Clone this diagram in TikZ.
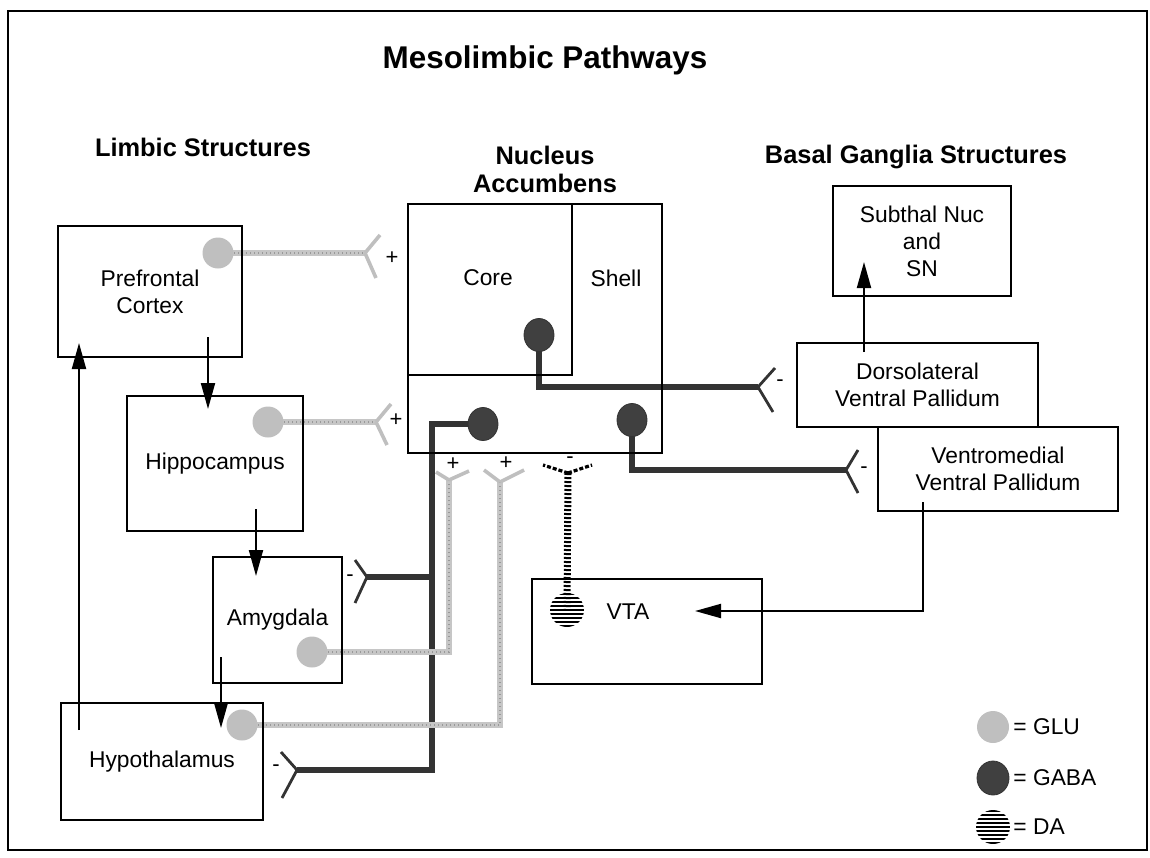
\documentclass[tikz,border=0pt]{standalone}
\usepackage{fontspec}
\setmainfont{Liberation Sans}
\usetikzlibrary{arrows.meta,shapes.geometric,backgrounds}

\tikzset{
	region/.style={draw, line width=1.3pt, inner sep=0pt, align=center, font=\fontsize{11.4}{13.5}\selectfont},
	caption/.style={align=center, inner sep=0pt, font=\fontsize{11.4}{13.5}\selectfont},
	heading/.style={align=center, inner sep=0pt, font=\bfseries\fontsize{12.7}{14}\selectfont},
	sign/.style={inner sep=0pt, font=\fontsize{11}{11}\selectfont},
	flow/.style={line width=1pt, -{Triangle[length=13pt,width=7pt]}},
	gaba/.style={ellipse, fill=black!75, draw=black!80, minimum width=15pt, minimum height=16.5pt, inner sep=0pt},
	glu/.style={circle, fill=gray!50, minimum size=15.5pt, inner sep=0pt},
	da/.style={circle, minimum size=17pt, inner sep=0pt,
		path picture={\foreach \k in {-8,-6,...,8}
			\draw[line width=1.1pt] ([yshift=\k pt]path picture bounding box.west) -- ([yshift=\k pt]path picture bounding box.east);}},
	gabalink/.style={line width=2.7pt, black!80},
	glulink/.style={line width=3pt, draw=gray!45, postaction={draw=gray!80, line width=0.7pt, dash pattern=on 0.7pt off 1.3pt}},
	dalink/.style={line width=3.5pt, dash pattern=on 1pt off 1pt},
	gabaarm/.style={line width=1.4pt, black!80},
	gluarm/.style={line width=1.8pt, gray!50},
	daarm/.style={line width=1.6pt, dash pattern=on 2pt off 1pt}
}

\begin{document}
\begin{tikzpicture}[x=0.5pt, y=-0.5pt]
	\useasboundingbox (0,0) rectangle (1150,857);
	\draw[line width=1.2pt] (8,11) rectangle (1147,850);

	% titles
	\node[heading, font=\bfseries\fontsize{15.7}{18}\selectfont] (title) at (545,60) {Mesolimbic Pathways};
	\node[heading] (limbichead) at (203,147) {Limbic Structures};
	\node[heading] (nachead) at (545,169) {Nucleus\\Accumbens};
	\node[heading] (bghead) at (916,157) {Basal Ganglia Structures};

	% limbic boxes
	\node[region, minimum width=92pt, minimum height=65.5pt] (pfc) at (150,291.5) {Prefrontal\\Cortex};
	\node[region, minimum width=88pt, minimum height=67.5pt] (hip) at (215,463.5) {Hippocampus};
	\node[region, minimum width=64.5pt, minimum height=63pt] (amy) at (277.5,620) {Amygdala};
	\node[region, minimum width=101pt, minimum height=58.5pt] (hyp) at (162,761.5) {Hypothalamus};

	% accumbens
	\node[region, minimum width=127pt, minimum height=124.5pt] (nac) at (535,328.5) {};
	\node[region, minimum width=82pt, minimum height=85.5pt] (core) at (490,289.5) {};
	\node[caption] (coretext) at (488,278) {Core};
	\node[caption] (shelltext) at (616,278) {Shell};

	% basal ganglia boxes
	\node[region, minimum width=89pt, minimum height=55pt] (stn) at (922,241) {Subthal Nuc\\and\\SN};
	\node[region, minimum width=120.5pt, minimum height=42pt] (dvp) at (917.5,385) {Dorsolateral\\Ventral Pallidum};
	\node[region, minimum width=120pt, minimum height=42pt] (vvp) at (998,469) {Ventromedial\\Ventral Pallidum};
	\node[region, minimum width=115pt, minimum height=52.5pt] (vta) at (647,631.5) {};
	\node[caption] (vtatext) at (628,612) {VTA};

	% cell bodies
	\node[glu] (pfcglu) at (218,253) {};
	\node[glu] (hipglu) at (268,422) {};
	\node[glu] (amyglu) at (312,652) {};
	\node[glu] (hypglu) at (242,725) {};
	\node[gaba] (coregaba) at (539,335) {};
	\node[gaba] (nacgaba) at (483,424) {};
	\node[gaba] (shellgaba) at (632,420) {};
	\node[da] (vtada) at (567,610) {};

	% synapse points
	\coordinate (pfcsyn) at (365,253);
	\coordinate (hipsyn) at (376,422);
	\coordinate (amysyn) at (449,480);
	\coordinate (hypsyn) at (500,482);
	\coordinate (dasyn) at (568,473);
	\coordinate (dvpsyn) at (758,387);
	\coordinate (vvpsyn) at (846,470);
	\coordinate (amygsyn) at (367,577);
	\coordinate (hypgsyn) at (297,770);
	\coordinate (gabatrunk) at (432,424);

	% flow arrows
	\coordinate (pfcout) at (208,337);
	\coordinate (hipin) at (208,409);
	\coordinate (hipout) at (256,509);
	\coordinate (amyin) at (256,576);
	\coordinate (amyout) at (221,657);
	\coordinate (hypin) at (221,728);
	\coordinate (hypout) at (79,730);
	\coordinate (pfcin) at (79,343);
	\coordinate (dvpout) at (864,352);
	\coordinate (stnin) at (864,262);
	\coordinate (vvpout) at (923,502);
	\coordinate (vtain) at (695,611);
	\draw[flow] (pfcout) -- (hipin);
	\draw[flow] (hipout) -- (amyin);
	\draw[flow] (amyout) -- (hypin);
	\draw[flow] (hypout) -- (pfcin);
	\draw[flow] (dvpout) -- (stnin);
	\draw[flow] (vvpout) |- (vtain);

	\begin{scope}[on background layer]
		\draw[gabalink] (coregaba.center) |- (dvpsyn);
		\draw[gabalink] (nacgaba.center) -- (gabatrunk) |- (hypgsyn);
		\draw[gabalink] (amygsyn) -- (amygsyn -| gabatrunk);
		\draw[gabalink] (shellgaba.center) |- (vvpsyn);
		\draw[glulink] (pfcglu.center) -- (pfcsyn);
		\draw[glulink] (hipglu.center) -- (hipsyn);
		\draw[glulink] (amyglu.center) -| (amysyn);
		\draw[glulink] (hypglu.center) -| (hypsyn);
		\draw[dalink] (dasyn) -- (vtada.center);
	\end{scope}

	% terminals
	\draw[gluarm] (pfcsyn) -- ++(15,-18) (pfcsyn) -- ++(11,25);
	\draw[gluarm] (hipsyn) -- ++(15,-18) (hipsyn) -- ++(11,23);
	\draw[gluarm] (amysyn) -- ++(-13,-8) (amysyn) -- ++(20,-9);
	\draw[gluarm] (hypsyn) -- ++(-16,-12) (hypsyn) -- ++(24,-12);
	\draw[daarm] (dasyn) -- ++(-25,-8) (dasyn) -- ++(24,-8);
	\draw[gabaarm] (dvpsyn) -- ++(17,-19) (dvpsyn) -- ++(15,25);
	\draw[gabaarm] (vvpsyn) -- ++(12,-20) (vvpsyn) -- ++(12,23);
	\draw[gabaarm] (amygsyn) -- ++(-12,-17) (amygsyn) -- ++(-12,26);
	\draw[gabaarm] (hypgsyn) -- ++(-16,-18) (hypgsyn) -- ++(-15,28);

	% signs
	\node[sign] (pfcsign) at (392,258) {+};
	\node[sign] (hipsign) at (396,420) {+};
	\node[sign] (amysign) at (453,464) {+};
	\node[sign] (hypsign) at (506,463) {+};
	\node[sign] (dasign) at (570,460) {-};
	\node[sign] (dvpsign) at (780,383) {-};
	\node[sign] (vvpsign) at (864,470) {-};
	\node[sign] (amygsign) at (350,578) {-};
	\node[sign] (hypgsign) at (276,768) {-};

	% legend
	\node[glu, minimum size=16pt] (glukeydot) at (993,727) {};
	\node[gaba, minimum width=16pt, minimum height=17pt] (gabakeydot) at (993,778) {};
	\node[da] (dakeydot) at (993,827) {};
	\node[caption, anchor=west] (glukey) at (1013,727) {= GLU};
	\node[caption, anchor=west] (gabakey) at (1013,778) {= GABA};
	\node[caption, anchor=west] (dakey) at (1013,827) {= DA};
\end{tikzpicture}
\end{document}
